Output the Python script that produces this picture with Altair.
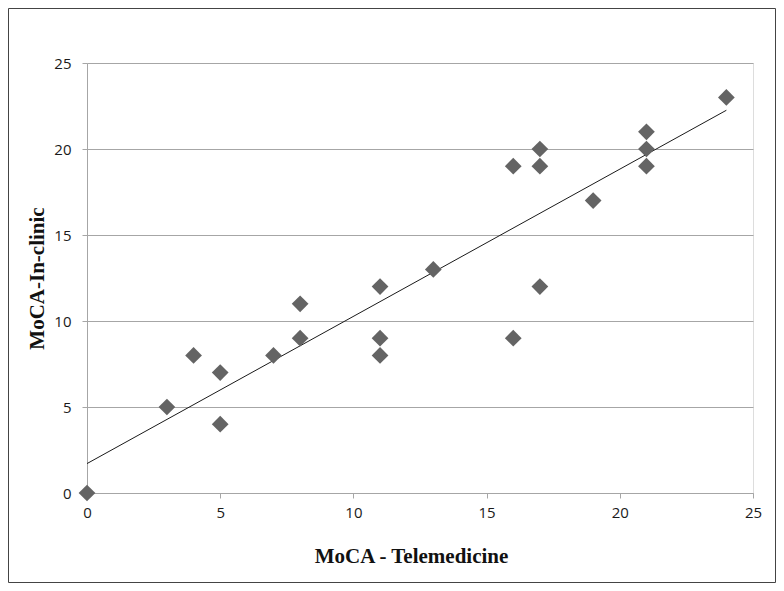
import altair as alt
import pandas as pd

telemedicine = [0, 3, 4, 5, 5, 7, 8, 8, 11, 11, 11, 13, 16, 16, 17, 17, 17, 19, 21, 21, 21, 24]
in_clinic = [0, 5, 8, 7, 4, 8, 9, 11, 12, 9, 8, 13, 19, 9, 20, 19, 12, 17, 21, 20, 19, 23]
axis_ticks = [0, 5, 10, 15, 20, 25]

df = pd.DataFrame({"x": telemedicine, "y": in_clinic})

W, H = 666, 430
PAD_L, PAD_T, PAD_R, PAD_B = 79, 55, 23, 90

grid_col = "#a6a6a6"
label_font = "Open Sans"

xscale = alt.Scale(domain=[0, 25], nice=False)
yscale = alt.Scale(domain=[0, 25], nice=False)

xaxis = alt.Axis(
    values=axis_ticks, grid=False, domainColor=grid_col, tickColor=grid_col,
    tickSize=5, labelFont=label_font, labelFontSize=15, labelColor="#1a1a1a",
    labelPadding=7, labelFlush=False, title="MoCA - Telemedicine",
    titleFont="Liberation Serif", titleFontSize=21, titleFontWeight="bold",
    titleColor="#111111", titleX=324, titleY=63, titleBaseline="middle",
    titleAlign="center",
)
yaxis = alt.Axis(
    values=axis_ticks, grid=True, gridColor=grid_col, domainColor=grid_col,
    tickColor=grid_col, tickSize=5, labelFont=label_font, labelFontSize=15,
    labelColor="#1a1a1a", labelPadding=11, labelFlush=False,
    title="MoCA-In-clinic", titleFont="Liberation Serif", titleFontSize=21,
    titleFontWeight="bold", titleColor="#111111", titleX=-50, titleY=H / 2,
    titleBaseline="middle", titleAlign="center", titleAngle=270,
)

base = alt.Chart(df)

points = base.mark_point(shape="diamond", filled=True, size=280, color="#646464", opacity=1).encode(
    x=alt.X("x:Q", scale=xscale, axis=xaxis),
    y=alt.Y("y:Q", scale=yscale, axis=yaxis),
)

trend = base.transform_regression("x", "y", extent=[0, 24]).mark_line(
    color="#1a1a1a", strokeWidth=1
).encode(
    x=alt.X("x:Q", scale=xscale),
    y=alt.Y("y:Q", scale=yscale),
)

frame = alt.Chart(pd.DataFrame({"a": [0]})).mark_rect(
    fill=None, stroke="#444444", strokeWidth=1
).encode(
    x=alt.value(-PAD_L + 0.5), x2=alt.value(W + PAD_R - 0.5),
    y=alt.value(-PAD_T + 0.5), y2=alt.value(H + PAD_B - 0.5),
)

chart = alt.layer(trend, points, frame).properties(
    width=W, height=H,
    autosize=alt.AutoSizeParams(type="none"),
    padding={"left": PAD_L, "top": PAD_T, "right": PAD_R, "bottom": PAD_B},
).configure_view(stroke=None).configure(background="white")

chart.save("out.html", embed_options={"renderer": "svg", "actions": False})
